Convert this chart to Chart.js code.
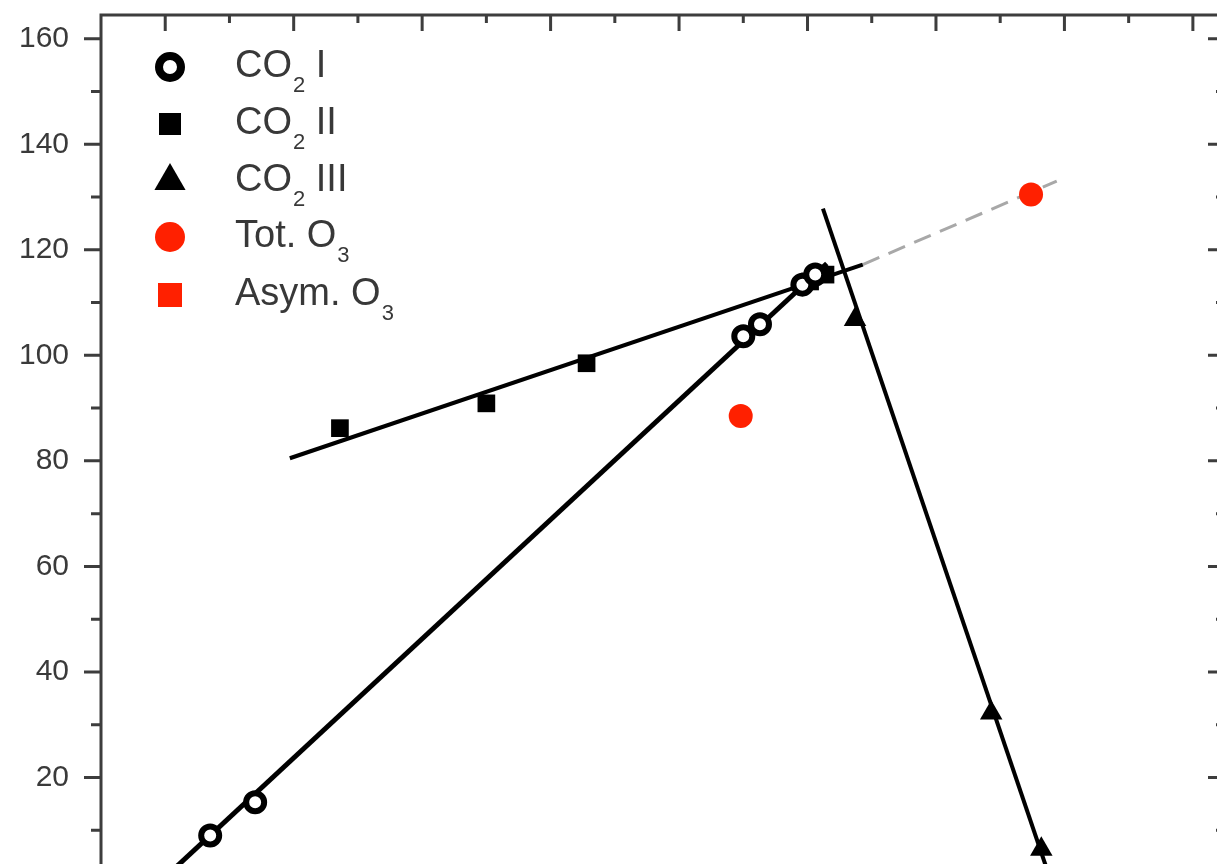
<!DOCTYPE html>
<html>
<head>
<meta charset="utf-8">
<script src="https://cdn.jsdelivr.net/npm/chart.js"></script>
<style>
  html, body { margin: 0; padding: 0; background: #fff; overflow: hidden; }
  #wrap { width: 1240px; height: 900px; }
</style>
</head>
<body>
<div id="wrap"><canvas id="grafico" width="1240" height="900"></canvas></div>
<script>
// valores (x no eixo de cima, y no eixo da esquerda)
var co2IX = [1.35, 1.70, 5.50, 5.63, 5.96, 6.06];
var co2IY = [9.0, 15.3, 103.6, 105.9, 113.4, 115.3];
var co2IIX = [2.36, 3.50, 4.28, 6.02, 6.14];
var co2IIY = [86.2, 90.9, 98.5, 114.0, 115.3];
var co2IIIX = [6.37, 7.43, 7.82];
var co2IIIY = [106.8, 32.2, 6.4];
var totO3X = [5.48, 7.74];
var totO3Y = [88.5, 130.5];
var asymO3X = [];
var asymO3Y = [];

// retas de ajuste (extremos)
var fitIX = [0.95, 6.15], fitIY = [0, 117.4];
var fitIIX = [1.97, 6.43], fitIIY = [80.5, 117.2];
var fitO3X = [6.43, 7.94], fitO3Y = [117.2, 133.0];
var fitIIIX = [6.12, 7.90], fitIIIY = [127.8, 0];

var yLabels = [20, 40, 60, 80, 100, 120, 140, 160];
var legendas = [
  {main: 'CO', sub: '2', rest: ' I'},
  {main: 'CO', sub: '2', rest: ' II'},
  {main: 'CO', sub: '2', rest: ' III'},
  {main: 'Tot. O', sub: '3', rest: ''},
  {main: 'Asym. O', sub: '3', rest: ''}
];

function pts(xs, ys) {
  return xs.map(function (x, i) { return {x: x, y: ys[i]}; });
}

var vermelho = '#ff2000';
var fonte = '"Liberation Sans", Arial, sans-serif';

function marcador(ctx, estilo, x, y, r, fill, stroke, bw) {
  ctx.beginPath();
  if (estilo === 'circle') ctx.arc(x, y, r, 0, Math.PI * 2);
  else if (estilo === 'rect') ctx.rect(x - r, y - r, 2 * r, 2 * r);
  else {
    ctx.moveTo(x, y - r);
    ctx.lineTo(x + r * 0.866, y + r * 0.5);
    ctx.lineTo(x - r * 0.866, y + r * 0.5);
    ctx.closePath();
  }
  ctx.fillStyle = fill;
  ctx.fill();
  if (bw) { ctx.lineWidth = bw; ctx.strokeStyle = stroke; ctx.stroke(); }
}

// moldura com marcas (esquerda p/ fora, topo e direita p/ dentro)
var moldura = {
  id: 'moldura',
  afterDatasetsDraw: function (chart) {
    var ctx = chart.ctx, a = chart.chartArea;
    var sx = chart.scales.x, sy = chart.scales.y;
    ctx.save();
    ctx.strokeStyle = '#3d3d3d';
    ctx.lineWidth = 3;
    ctx.beginPath();
    ctx.moveTo(a.left, a.bottom + 20); ctx.lineTo(a.left, a.top);
    ctx.lineTo(a.right, a.top); ctx.lineTo(a.right, a.bottom + 20);
    ctx.stroke();
    ctx.beginPath();
    for (var v = 10; v <= 160; v += 10) {
      var py = sy.getPixelForValue(v);
      var major = v % 20 === 0;
      ctx.moveTo(a.left - (major ? 17 : 10), py); ctx.lineTo(a.left, py);
      ctx.moveTo(a.right, py); ctx.lineTo(a.right - (major ? 17 : 9), py);
    }
    for (var t = 1; t <= 9; t += 0.5) {
      var px = sx.getPixelForValue(t);
      var maj = t % 1 === 0;
      ctx.moveTo(px, a.top); ctx.lineTo(px, a.top + (maj ? 16 : 8));
    }
    ctx.stroke();
    ctx.restore();
  },
  afterDraw: function (chart) {
    var ctx = chart.ctx;
    var linhas = [67, 124, 181, 237, 295];
    var estilos = [
      ['circle', 11, '#fff', '#000', 8],
      ['rect', 11, '#000', '#000', 0],
      ['triangle', 18, '#000', '#000', 0],
      ['circle', 15, vermelho, vermelho, 0],
      ['rect', 12, vermelho, vermelho, 0]
    ];
    ctx.save();
    linhas.forEach(function (y, i) {
      var e = estilos[i];
      marcador(ctx, e[0], 170, y, e[1], e[2], e[3], e[4]);
      var l = legendas[i];
      var x = 235;
      ctx.fillStyle = '#383838';
      ctx.textBaseline = 'middle';
      ctx.font = '38px ' + fonte;
      ctx.fillText(l.main, x, y);
      x += ctx.measureText(l.main).width + 1;
      ctx.font = '22px ' + fonte;
      ctx.fillText(l.sub, x, y + 19);
      x += ctx.measureText(l.sub).width;
      ctx.font = '38px ' + fonte;
      ctx.fillText(l.rest, x, y);
    });
    ctx.restore();
  }
};

Chart.defaults.font.family = fonte;
Chart.defaults.color = '#3a3a3a';

var ctx = document.getElementById('grafico').getContext('2d');
var grafico = new Chart(ctx, {
  type: 'scatter',
  data: {
    datasets: [{
      label: 'CO2 I',
      data: pts(co2IX, co2IY),
      pointStyle: 'circle',
      pointRadius: 9,
      pointBorderWidth: 6,
      pointBackgroundColor: '#fff',
      pointBorderColor: '#000',
      order: 1
    }, {
      label: 'CO2 II',
      data: pts(co2IIX, co2IIY),
      pointStyle: 'rect',
      pointRadius: 12.5,
      pointBorderWidth: 0,
      pointBackgroundColor: '#000',
      order: 1
    }, {
      label: 'CO2 III',
      data: pts(co2IIIX, co2IIIY),
      pointStyle: 'triangle',
      pointRadius: 13,
      pointBorderWidth: 0,
      pointBackgroundColor: '#000',
      order: 1
    }, {
      label: 'Tot. O3',
      data: pts(totO3X, totO3Y),
      pointStyle: 'circle',
      pointRadius: 12,
      pointBorderWidth: 0,
      pointBackgroundColor: vermelho,
      order: 1
    }, {
      label: 'Asym. O3',
      data: pts(asymO3X, asymO3Y),
      pointStyle: 'rect',
      pointRadius: 12,
      pointBorderWidth: 0,
      pointBackgroundColor: vermelho,
      order: 1
    }, {
      label: 'ajuste I',
      data: pts(fitIX, fitIY),
      showLine: true, pointRadius: 0,
      borderColor: '#000', borderWidth: 5,
      order: 2
    }, {
      label: 'ajuste II',
      data: pts(fitIIX, fitIIY),
      showLine: true, pointRadius: 0,
      borderColor: '#000', borderWidth: 4,
      order: 2
    }, {
      label: 'ajuste O3',
      data: pts(fitO3X, fitO3Y),
      showLine: true, pointRadius: 0,
      borderColor: '#a8a8a8', borderWidth: 3,
      borderDash: [18, 10],
      order: 2
    }, {
      label: 'ajuste III',
      data: pts(fitIIIX, fitIIIY),
      showLine: true, pointRadius: 0,
      borderColor: '#000', borderWidth: 4,
      order: 2
    }]
  },
  options: {
    responsive: false,
    animation: false,
    layout: { padding: { left: 0, top: 13, right: 13, bottom: 17 } },
    scales: {
      x: {
        type: 'linear', min: 0.5, max: 9.25,
        display: false
      },
      y: {
        type: 'linear', min: 0, max: 164.5,
        grid: { display: false, drawTicks: false },
        border: { display: false },
        ticks: {
          stepSize: 20,
          includeBounds: false,
          padding: 32,
          font: { size: 30 },
          callback: function (v) { return yLabels.indexOf(v) >= 0 ? v : ''; }
        },
        afterFit: function (s) {
          s.width = 101;
          s.paddingTop = 0;
          s.paddingBottom = 0;
        }
      }
    },
    plugins: {
      legend: { display: false },
      tooltip: { enabled: false }
    }
  },
  plugins: [moldura]
});
</script>
</body>
</html>
